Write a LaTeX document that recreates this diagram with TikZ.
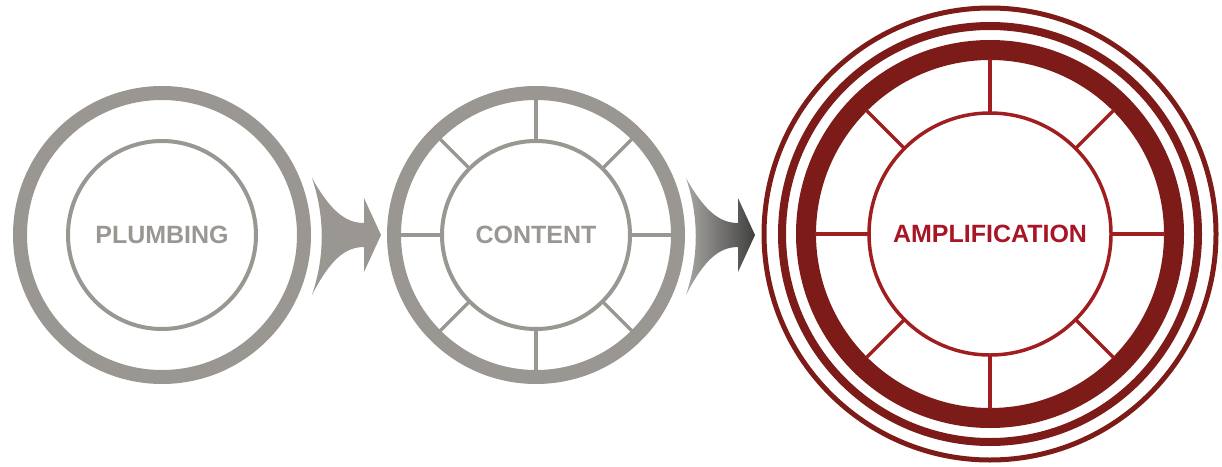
\documentclass[tikz,border=0pt]{standalone}
\usepackage[rgb]{xcolor}
\usepackage{fontspec}
\setmainfont{Liberation Sans}
\usepackage{tikz}

\definecolor{ringgray}{RGB}{154,151,146}
\definecolor{ampdark}{RGB}{125,27,24}
\definecolor{ampred}{RGB}{160,30,32}
\definecolor{amptext}{RGB}{168,22,38}

\begin{document}
\begin{tikzpicture}[x=1pt, y=-1pt,
	grayring/.style={draw=ringgray, line width=14pt},
	graythin/.style={draw=ringgray, line width=4pt},
	grayspoke/.style={draw=ringgray, line width=3.5pt},
	redring/.style={draw=ampdark, line width=#1},
	redthin/.style={draw=ampred, line width=3.5pt},
	stagetext/.style={font=\bfseries\fontsize{25}{29}\selectfont, text=ringgray},
	flatarrow/.style={fill=ringgray},
	shadedarrow/.style={left color=ringgray!85!white, right color=black!75}]

	\useasboundingbox (0,0) rectangle (1222,466);

	\coordinate (plumbing) at (162,235);
	\coordinate (content) at (536,235);
	\coordinate (amplification) at (990,234);


	% plumbing
	\draw[grayring] (plumbing) circle[radius=142];
	\draw[graythin] (plumbing) circle[radius=94];
	\node[stagetext] (plumbingtext) at (plumbing) {PLUMBING};


	% content
	\draw[grayring] (content) circle[radius=142];
	\draw[graythin] (content) circle[radius=94];
	\foreach \a in {0,45,...,315} {
		\draw[grayspoke] ([shift={(\a:94)}]content) -- ([shift={(\a:136)}]content);
	}
	\node[stagetext] (contenttext) at (content) {CONTENT};


	% amplification
	\draw[redring=5pt] (amplification) circle[radius=226];
	\draw[redring=8pt] (amplification) circle[radius=208];
	\draw[redring=20pt] (amplification) circle[radius=184];
	\draw[redthin] (amplification) circle[radius=121];
	\foreach \a in {0,45,...,315} {
		\draw[redthin] ([shift={(\a:121)}]amplification) -- ([shift={(\a:175)}]amplification);
	}
	\node[stagetext, text=amptext] (amplificationtext) at (amplification) {AMPLIFICATION};


	% arrows between the stages
	\foreach \dx/\arrowstyle in {0/flatarrow, 374/shadedarrow} {
		\begin{scope}[shift={(\dx,0)}]
			\path[\arrowstyle] (312,178)
			.. controls (330,210) and (345,223) .. (364,223)
			-- (364,198) -- (381,235) -- (364,272) -- (364,247)
			.. controls (345,247) and (330,260) .. (312,295)
			.. controls (325,256) and (325,217) .. (312,178) -- cycle;
		\end{scope}
	}


\end{tikzpicture}
\end{document}
